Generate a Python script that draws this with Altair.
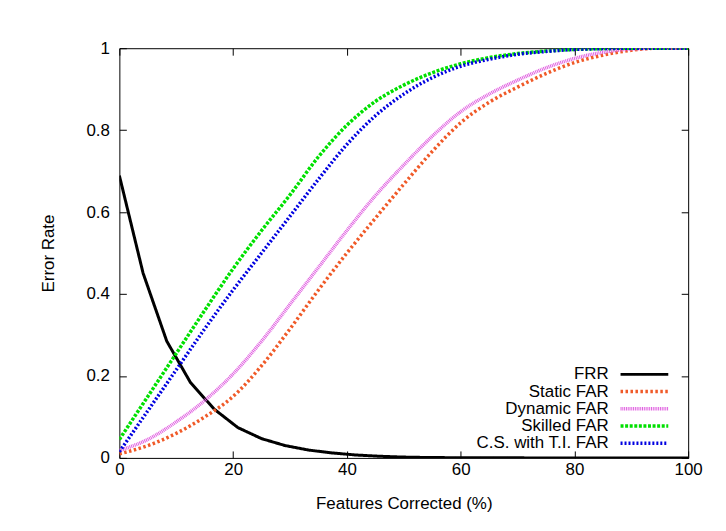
import altair as alt
import pandas as pd

# ---- data ----
frr_x = [0, 4.17, 8.33, 12.5, 16.67, 20.83, 25, 29.17, 33.33, 37.5, 41.67, 45.83, 50,
         54.17, 58.33, 62.5, 66.67, 70.83, 75, 79.17, 83.33, 87.5, 91.67, 95.83, 100]
frr_y = [0.689, 0.451, 0.285, 0.184, 0.119, 0.074, 0.047, 0.030, 0.019, 0.012, 0.007,
         0.004, 0.002, 0.001, 0.0006, 0.0003, 0.0002, 0.0001, 0, 0, 0, 0, 0, 0, 0]

far_x = [0, 5, 10, 15, 20, 25, 30, 35, 40, 45, 50, 55, 60, 65, 70, 75, 80, 85, 90, 95, 100]
static_far = [0.010, 0.030, 0.060, 0.100, 0.150, 0.225, 0.315, 0.410, 0.500, 0.585, 0.668,
              0.748, 0.818, 0.868, 0.905, 0.938, 0.965, 0.983, 0.995, 1.0, 1.0]
dynamic_far = [0.018, 0.045, 0.088, 0.140, 0.205, 0.285, 0.375, 0.465, 0.555, 0.640, 0.715,
               0.785, 0.845, 0.888, 0.922, 0.952, 0.975, 0.990, 0.998, 1.0, 1.0]
skilled_far = [0.045, 0.150, 0.255, 0.360, 0.462, 0.555, 0.642, 0.735, 0.812, 0.870, 0.910,
               0.940, 0.962, 0.977, 0.987, 0.993, 0.997, 0.999, 1.0, 1.0, 1.0]
cs_ti_far = [0.015, 0.115, 0.215, 0.315, 0.410, 0.500, 0.590, 0.680, 0.765, 0.835, 0.888,
             0.928, 0.956, 0.973, 0.985, 0.992, 0.997, 0.999, 1.0, 1.0, 1.0]

x_ticks = [0, 20, 40, 60, 80, 100]
y_ticks = [0, 0.2, 0.4, 0.6, 0.8, 1.0]

names = ["FRR", "Static FAR", "Dynamic FAR", "Skilled FAR", "C.S. with T.I. FAR"]
colors = ["#000000", "#f05a28", "#e060e0", "#00e000", "#0000e0"]
dashes = [[1, 0], [2.5, 2.5], [1, 0.8], [3, 1.6], [2, 2]]
widths = [3, 3.5, 3.5, 3.5, 3.5]

FONT = "Liberation Sans"
FS = 17

xscale = alt.Scale(domain=[0, 100], nice=False, zero=False)
yscale = alt.Scale(domain=[0, 1], nice=False, zero=False)

ax_bottom = alt.Axis(orient="bottom", values=x_ticks, offset=-7, tickSize=7, labelPadding=4,
                     labelFlush=False, title="Features Corrected (%)", titleBaseline="middle",
                     titleY=53)
ax_left = alt.Axis(orient="left", values=y_ticks, format="~g", offset=-7, tickSize=7,
                   labelPadding=10, title="Error Rate", titleBaseline="middle", titleX=-78)
ax_top = alt.Axis(orient="top", values=x_ticks, offset=-7, tickSize=7, labels=False, title=None)
ax_right = alt.Axis(orient="right", values=y_ticks, offset=-7, tickSize=7, labels=False, title=None)

series = [
    (frr_x, frr_y, "linear"),
    (far_x, static_far, "monotone"),
    (far_x, dynamic_far, "monotone"),
    (far_x, skilled_far, "monotone"),
    (far_x, cs_ti_far, "monotone"),
]

layers = []
for i, (xs, ys, interp) in enumerate(series):
    df = pd.DataFrame({"x": xs, "y": ys, "series": names[i]})
    if i == 0:
        xa, ya = ax_bottom, ax_left
    elif i == 1:
        xa, ya = ax_top, ax_right
    else:
        xa, ya = None, None
    layers.append(
        alt.Chart(df).mark_line(color=colors[i], strokeWidth=widths[i], strokeDash=dashes[i],
                                interpolate=interp, strokeCap="butt", clip=True)
        .encode(x=alt.X("x:Q", scale=xscale, axis=xa),
                y=alt.Y("y:Q", scale=yscale, axis=ya))
    )

# legend (gnuplot style: text on left, sample on right)
leg_text_x = 492
leg_line_x1, leg_line_x2 = 504, 552
leg_y0, leg_dy = 328, 17.3
for i, name in enumerate(names):
    ldf = pd.DataFrame({"label": [name]})
    yy = leg_y0 + i * leg_dy
    layers.append(
        alt.Chart(ldf).mark_text(align="right", baseline="middle", font=FONT, fontSize=FS,
                                 color="black")
        .encode(text="label:N", x=alt.value(leg_text_x), y=alt.value(yy))
    )
    layers.append(
        alt.Chart(ldf).mark_rule(color=colors[i], strokeWidth=widths[i], strokeDash=dashes[i],
                                 strokeCap="butt")
        .encode(x=alt.value(leg_line_x1), x2=alt.value(leg_line_x2), y=alt.value(yy))
    )

chart = (
    alt.layer(*layers)
    .resolve_axis(x="independent", y="independent")
    .properties(width=572, height=412, autosize=alt.AutoSizeParams(type="none"),
                padding={"left": 112, "top": 39, "right": 30, "bottom": 60},
                background="white")
    .configure_view(stroke="black", strokeWidth=1)
    .configure_axis(grid=False, domain=False, tickColor="black", tickWidth=1,
                    labelFont=FONT, labelFontSize=FS, labelColor="black",
                    titleFont=FONT, titleFontSize=FS, titleFontWeight="normal", titleColor="black")
)

chart.save("out.html", embed_options={"renderer": "svg", "actions": False})
